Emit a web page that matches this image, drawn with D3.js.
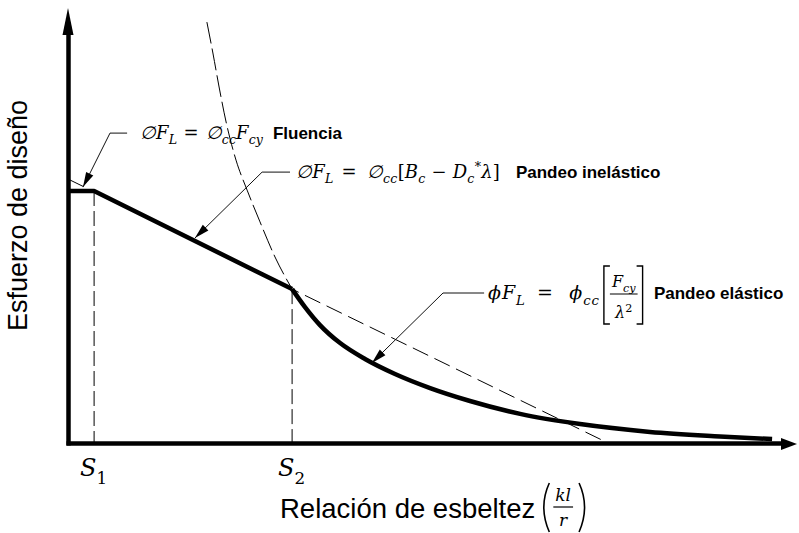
<!DOCTYPE html>
<html><head><meta charset="utf-8">
<script src="https://cdn.jsdelivr.net/npm/d3@7"></script>
<style>body{margin:0;background:#fff}svg text{white-space:pre}</style>
</head><body><svg id="c" width="799" height="533"></svg>
<script>
// ---------- data (x: slenderness units, y: stress units) ----------
const plateauInelastic = [[0,84],[8.7,84],[74.7,51.3]];
const elastic = [[74.7,51.3],[79,45.3],[84,39.3],[90.7,33.3],[99,28],[109,23],[120.7,18.3],[134,14],[150.7,9.7],[170.7,6.3],[194,3.7],[217.3,2.2],[234.7,1.3]];
const eulerDashed = [[46.3,140.3],[48.3,130],[50.3,119],[52.7,107],[56,94.3],[59.7,84.3],[64,73.7],[69,62],[74.7,51.3]];
const inelasticDashed = [[0,88],[74.7,51.3],[180,0]];
const limitNames = ["1","2"];
const limitX = [8.7,74.7];
const limitY = [84,51.3];
const labelWords = ["Fluencia","Pandeo inelástico","Pandeo elástico"];
// leader geometry in data units
const leaderTip = [[5,85.3],[42.3,68.3],[101.3,26.7]];
const leaderElbow = [[14,103.3],[64.7,90.3],[125,50]];
const leaderEnd = [[19.7,103.3],[74,90.3],[138.7,50]];
const formulaX = [24,76,140];
const formulaY = [101.5,88.5,48];
const formulaW = [41,68,37.3];     // formula widths in x units
const labelX = [68.3,149.3,195.3];
const yTitle = "Esfuerzo de diseño";
const xTitle = "Relación de esbeltez";

// ---------- setup ----------
const svg = d3.select('#c');
const x = d3.scaleLinear().domain([0,243]).range([68,797]);
const y = d3.scaleLinear().domain([0,145]).range([443,8]);
const serif = "'DejaVu Serif','Liberation Serif',serif";
const sans = "'Liberation Sans',Arial,sans-serif";
const lin = d3.line().x(d=>x(d[0])).y(d=>y(d[1]));
const smooth = d3.line().x(d=>x(d[0])).y(d=>y(d[1])).curve(d3.curveMonotoneX);

// dashed construction lines
svg.append('path').attr('d',lin(inelasticDashed)).attr('fill','none')
  .attr('stroke','#000').attr('stroke-width',1).attr('stroke-dasharray','17,7');
svg.append('path').attr('d',smooth(eulerDashed)).attr('fill','none')
  .attr('stroke','#000').attr('stroke-width',1).attr('stroke-dasharray','22,5');
limitX.forEach((lx,i)=>{
  svg.append('line').attr('x1',x(lx)).attr('x2',x(lx)).attr('y1',y(limitY[i])).attr('y2',y(0))
    .attr('stroke','#000').attr('stroke-width',1).attr('stroke-dasharray','15,5');
});

// axes
const yAx = y.copy().range([y(0)+2, y(145)+24]);
svg.append('g').attr('transform',`translate(${x(0)},0)`)
  .call(d3.axisLeft(yAx).tickValues([]).tickSizeOuter(0))
  .select('.domain').attr('stroke','#000').attr('stroke-width',4.5);
const xAx = x.copy().range([x(0)-2, x(243)-14]);
svg.append('g').attr('transform',`translate(0,${y(0)})`)
  .call(d3.axisBottom(xAx).tickValues([]).tickSizeOuter(0))
  .select('.domain').attr('stroke','#000').attr('stroke-width',4.5);
const yt=[x(0),y(145)], xt=[x(243),y(0)];
svg.append('path').attr('d',`M${yt[0]},${yt[1]}L${yt[0]-5.5},${yt[1]+27}L${yt[0]+5.5},${yt[1]+27}Z`).attr('fill','#000');
svg.append('path').attr('d',`M${xt[0]},${xt[1]+1}L${xt[0]-16},${xt[1]-5}L${xt[0]-16},${xt[1]+7}Z`).attr('fill','#000');

// bold design curve
svg.append('path').attr('d',lin(plateauInelastic)).attr('fill','none')
  .attr('stroke','#000').attr('stroke-width',4.5).attr('stroke-linejoin','round');
svg.append('path').attr('d',smooth(elastic)).attr('fill','none')
  .attr('stroke','#000').attr('stroke-width',4.5).attr('stroke-linejoin','round');

// leaders
leaderTip.forEach((tp,i)=>{
  const pts=[leaderEnd[i],leaderElbow[i],tp];
  svg.append('path').attr('d',lin(pts)).attr('fill','none').attr('stroke','#111').attr('stroke-width',1);
  const tx=x(tp[0]), ty=y(tp[1]), ex=x(leaderElbow[i][0]), ey=y(leaderElbow[i][1]);
  const a=Math.atan2(ey-ty,ex-tx), L=15, w=4;
  const bx=tx+L*Math.cos(a), by=ty+L*Math.sin(a);
  svg.append('path').attr('d',`M${tx},${ty}L${bx-w*Math.sin(a)},${by+w*Math.cos(a)}L${bx+w*Math.sin(a)},${by-w*Math.cos(a)}Z`).attr('fill','#000');
});

// math text helper
function math(x0,yb,parts,size,target){
  const t=svg.append('text').attr('x',x0).attr('y',yb).attr('font-family',serif).attr('font-size',size).attr('fill','#000');
  let shift=0;
  const spans=[];
  parts.forEach(p=>{
    const tg=p.s==='sub'?0.32*size:p.s==='sup'?-0.38*size:0;
    spans.push(t.append('tspan').attr('dy',tg-shift).attr('font-size',p.s?size*0.7:size)
      .attr('font-style',p.r?'normal':'italic').text(p.t));
    shift=tg;
  });
  if(target){
    const w=t.node().getComputedTextLength();
    const extra=Math.max(0,target-w);
    const n=parts.map(p=>p.t).join('').length;
    const eqIdx=parts.findIndex(p=>p.t===' = ');
    const eqShare=Math.min(extra*0.6,24);
    spans[eqIdx].attr('letter-spacing',eqShare/3);
    t.attr('letter-spacing',(extra-eqShare)/n);
    spans[eqIdx].attr('letter-spacing',eqShare/3+(extra-eqShare)/n);
  }
  return t;
}
const f1=[{t:'∅'},{t:'F'},{t:'L',s:'sub'},{t:' = ',r:1},{t:'∅'},{t:'cc',s:'sub'},{t:'F'},{t:'cy',s:'sub'}];
const f2=[{t:'∅'},{t:'F'},{t:'L',s:'sub'},{t:' = ',r:1},{t:'∅'},{t:'cc',s:'sub'},{t:'[',r:1},{t:'B'},{t:'c',s:'sub'},{t:' − ',r:1},{t:'D'},{t:'c',s:'sub'},{t:'*',s:'sup',r:1},{t:'λ'},{t:']',r:1}];
const f3=[{t:'ϕ'},{t:'F'},{t:'L',s:'sub'},{t:' = ',r:1},{t:'ϕ'},{t:'cc',s:'sub'}];
const fs=[f1,f2,f3];
const fsize=[18,18,19];
fs.forEach((f,i)=>{
  math(x(formulaX[i]),y(formulaY[i]),f,fsize[i],x(formulaW[i])-x(0));
  svg.append('text').attr('x',x(labelX[i])).attr('y',y(formulaY[i])).attr('font-family',sans)
    .attr('font-weight','bold').attr('font-size',17).text(labelWords[i]);
});
// bracket fraction of formula 3
const base3=y(formulaY[2]);
const bl=x(formulaX[2])+x(formulaW[2])-x(0)+4;
const num=math(0,base3-12,[{t:'F'},{t:'cy',s:'sub'}],16);
const nw=num.node().getComputedTextLength();
num.attr('x',bl+8);
const cx=bl+8+nw/2;
const fw=nw+4;
const den=math(0,base3+19,[{t:'λ'},{t:'2',s:'sup',r:1}],16);
const dw=den.node().getComputedTextLength();
den.attr('x',cx-dw/2);
svg.append('line').attr('x1',cx-fw/2).attr('x2',cx+fw/2).attr('y1',base3-5).attr('y2',base3-5).attr('stroke','#000').attr('stroke-width',1);
const br=cx+fw/2+5;
svg.append('path').attr('d',`M${bl+6},${base3-33}H${bl}V${base3+25}H${bl+6}`).attr('fill','none').attr('stroke','#000').attr('stroke-width',1.4);
svg.append('path').attr('d',`M${br-6},${base3-33}H${br}V${base3+25}H${br-6}`).attr('fill','none').attr('stroke','#000').attr('stroke-width',1.4);

// limit labels S1, S2
limitX.forEach((lx,i)=>{
  math(x(lx)-14, y(0)+33, [{t:'S'},{t:limitNames[i],s:'sub',r:1}], 24);
});

// axis titles
svg.append('text').attr('transform',`translate(27,${(y(0)+y(145))/2-10}) rotate(-90)`)
  .attr('text-anchor','middle').attr('font-family',sans).attr('font-size',27).text(yTitle);
const tx0=x(0)+212, by0=y(0)+75;
const xt2=svg.append('text').attr('x',tx0).attr('y',by0).attr('font-family',sans).attr('font-size',27.5).text(xTitle);
const xe=tx0+xt2.node().getComputedTextLength()+6;
svg.append('path').attr('d',`M${xe+8},${by0-35}Q${xe-3},${by0-11} ${xe+8},${by0+14}`).attr('fill','none').attr('stroke','#000').attr('stroke-width',1.6);
const kl=math(0,by0-17,[{t:'kl'}],17);
const klw=kl.node().getComputedTextLength();
const fcx=xe+8+6+klw/2;
kl.attr('x',fcx-klw/2);
svg.append('line').attr('x1',fcx-klw/2-2).attr('x2',fcx+klw/2+2).attr('y1',by0-11).attr('y2',by0-11).attr('stroke','#000').attr('stroke-width',1.2);
const rr=math(0,by0+8,[{t:'r'}],17);
rr.attr('x',fcx-rr.node().getComputedTextLength()/2);
const xe2=fcx+klw/2+8;
svg.append('path').attr('d',`M${xe2},${by0-35}Q${xe2+11},${by0-11} ${xe2},${by0+14}`).attr('fill','none').attr('stroke','#000').attr('stroke-width',1.6);
</script></body></html>
